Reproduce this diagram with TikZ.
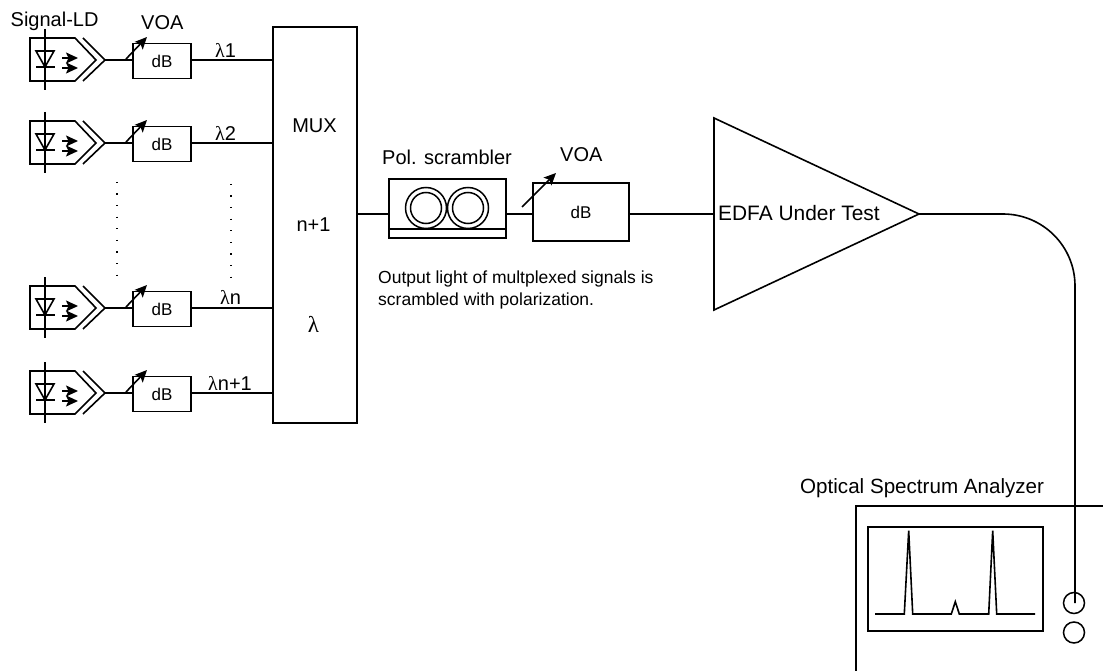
\documentclass[tikz,border=0pt]{standalone}
\usepackage{fontspec}
\setmainfont{Liberation Sans}
\newfontfamily\symbfont{Liberation Serif}
\usetikzlibrary{arrows.meta}
\newcommand{\fsz}[1]{\fontsize{#1}{#1}\selectfont}
\newcommand{\lam}{{\symbfont λ}}
\tikzset{
  line/.style={line width=1.6pt,line cap=butt,line join=miter},
  boxnode/.style={draw,line width=1.6pt,rectangle,inner sep=0pt,font=\fsz{17}},
  ringnode/.style={circle,draw,line width=1.5pt,inner sep=0pt},
  lbl/.style={inner sep=0pt,anchor=base west,font=\fsz{20}},
  small/.style={inner sep=0pt,anchor=base west,font=\fsz{17.5}},
  tune/.style={line width=1.6pt,-{Stealth[length=12pt,width=11pt,inset=2.5pt]}},
  dotline/.style={line width=1.3pt,dash pattern=on 1.2pt off 10.4pt},
}
% row: #1 name, #2 y, #3 label x, #4 label, #5 label baseline offset
\newcommand{\ldrow}[5]{%
  \begin{scope}[shift={(0,#2)}]
    \draw[line] (75,-22) -- (30,-22) -- (30,21) -- (75,21) -- (96,0) -- cycle;
    \draw[line] (83,-22) -- (105,0) -- (83,21);
    \draw[line] (45,-31) -- (45,30);
    \draw[line] (36,-9) -- (54,-9) -- (45,7) -- cycle;
    \draw[line] (36,7) -- (55,7);
    \draw[tune] (62,-2) -- (78,-2);
    \draw[tune] (62,8) -- (78,8);
    \coordinate (tip#1) at (105,0);
    \node[boxnode,minimum width=58pt,minimum height=35pt] (db#1) at (162,1) {dB};
    \coordinate (dbin#1) at (133,0);
    \coordinate (dbout#1) at (191,0);
    \draw[tune] (126,-1) -- (147,-23);
    \node[inner sep=0pt,anchor=base west,font=\fsz{20}] at (#3,#5) {\lam #4};
  \end{scope}
  \draw[line] (tip#1) -- (dbin#1);
  \draw[line] (dbout#1) -- (dbout#1 -| mux.west);
}
\begin{document}
\begin{tikzpicture}[x=1pt,y=-1pt]
\useasboundingbox (0,0) rectangle (1103,671);
\node[boxnode,minimum width=84pt,minimum height=396pt] (mux) at (315,225) {};
\node[font=\fsz{20},inner sep=0pt] (muxt) at (314.5,125.5) {MUX};
\node[font=\fsz{20},inner sep=0pt] (nt) at (313.5,225) {n+1};
\node[font=\fsz{23},inner sep=0pt] (lt) at (313.5,324) {\lam};
\ldrow{a}{60}{215}{1}{-2.7}
\ldrow{b}{143}{215}{2}{-2.3}
\ldrow{c}{308}{220}{n}{-3.7}
\ldrow{d}{393}{208}{n+1}{-3}
\node[lbl] (sig) at (10.5,27) {Signal-LD};
\node[lbl] (voa1) at (141,30) {VOA};
\draw[dotline] (117,181.8) -- (117,277);
\draw[dotline] (231,183.8) -- (231,279);
% scrambler
\node[boxnode,minimum width=117pt,minimum height=59pt] (scr) at (447.5,208.5) {};
\draw[line] (scr.west |- 0,229) -- (scr.east |- 0,229);
\node[ringnode,minimum size=41pt] (c1o) at (426,208) {};
\node[ringnode,minimum size=31pt] (c1i) at (426,208) {};
\node[ringnode,minimum size=41pt] (c2o) at (468,208) {};
\node[ringnode,minimum size=31pt] (c2i) at (468,208) {};
\node[lbl] (pol) at (382,165) {Pol. scrambler};
% VOA 2
\node[boxnode,minimum width=96pt,minimum height=58pt] (db2) at (581,212) {dB};
\node[lbl] (voa2) at (560,162) {VOA};
\draw[tune] (522,207) -- (556,173);
\coordinate (mo) at (357,214);
\draw[line] (mo) -- (mo -| scr.west);
\draw[line] (scr.east |- 0,214) -- (db2.west |- 0,214);
% text
\node[small] (out1) at (378,283.3) {Output light of multplexed signals is};
\node[small] (out2) at (378,305.7) {scrambled with polarization.};
% EDFA
\coordinate (ea) at (714,118);
\coordinate (eb) at (714,310);
\coordinate (ec) at (919,214);
\draw[line] (ea) -- (ec) -- (eb) -- cycle;
\node[lbl,font=\fsz{20.9}] (edfa) at (718,220.7) {EDFA Under Test};
\draw[line] (db2.east |- 0,214) -- (ea |- 0,214);
% OSA
\node[lbl,font=\fsz{20.6}] (osa) at (800,493) {Optical Spectrum Analyzer};
\draw[line] (856,671) -- (856,506) -- (1103,506);
\node[boxnode,minimum width=175pt,minimum height=104pt] (scrn) at (955.5,579) {};
\draw[line] (875,614) -- (904.3,614) -- (908.7,530.7) -- (912.7,614) -- (951.3,614) -- (955.3,601.7) -- (959.3,614) -- (988.7,614) -- (992.7,530.7) -- (996.7,614) -- (1035,614);
\node[ringnode,minimum size=21pt] (p1) at (1074,603) {};
\node[ringnode,minimum size=21pt] (p2) at (1074,632.5) {};
\draw[line] (ec) -- (1003,214) arc[start angle=-90,end angle=0,radius=72] -- (1075,603);
\end{tikzpicture}
\end{document}
